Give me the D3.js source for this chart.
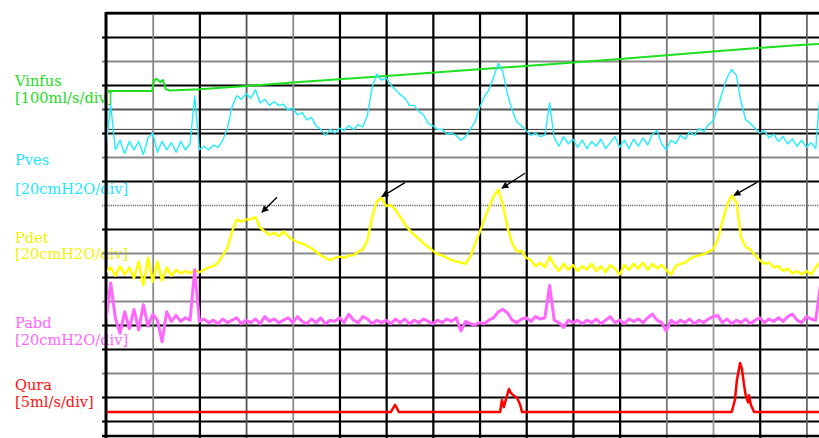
<!DOCTYPE html>
<html>
<head>
<meta charset="utf-8">
<script src="https://cdn.jsdelivr.net/npm/d3@7"></script>
<style>
  body { margin: 0; background: #fff; }
  svg { display: block; }
  text { font-family: "DejaVu Serif", serif; font-size: 14.6px; }
</style>
</head>
<body>
<div id="chart"></div>
<script>
// time in seconds, 10 s per division; noisy channels are sampled once per second
const gridTimes = [10, 20, 30, 40, 50, 60, 70, 80, 90, 100, 110, 120, 130, 140, 150];
const gridRows = [0, 1, 2, 3, 4, 5, 6, 7, 8, 9, 10, 11, 12, 13, 14, 15, 16, 17];

const channelNames = ["Vinfus", "Pves", "Pdet", "Pabd", "Qura"];
const channelUnits = ["[100ml/s/div]", "[20cmH2O/div]", "[20cmH2O/div]", "[20cmH2O/div]", "[5ml/s/div]"];

// infused volume (ml)
const vinfusT = [0, 9.9, 10.3, 10.9, 11.6, 12.2, 12.8, 13.7, 20.1, 30.8, 41.5, 63.0, 84.4, 95.1, 110.1, 130.0, 148.6, 152.7];
const vinfusV = [0, 0, 46, 50, 37, 46, 8, 2, 7, 22, 37, 67, 97, 111, 133, 165, 192, 196];

// pressures (cmH2O), one value per second
const pves = [8, 43, 6, 14, 3, 13, 6, 13, 2, 16, 20, 4, 13, 6, 12, 4, 13, 6, 11, 51,
  6, 9, 6, 10, 8, 14, 24, 42, 51, 48, 53, 49, 56, 45, 48, 43, 46, 43, 44, 39,
  41, 35, 37, 31, 33, 26, 23, 18, 23, 20, 24, 22, 26, 23, 27, 25, 35, 58, 69, 64,
  66, 60, 56, 52, 49, 43, 43, 38, 35, 28, 26, 23, 23, 19, 20, 18, 14, 17, 23, 29,
  41, 50, 56, 66, 78, 71, 52, 39, 29, 26, 22, 18, 20, 17, 18, 45, 16, 9, 17, 11,
  15, 8, 14, 7, 13, 9, 15, 7, 12, 17, 8, 14, 7, 15, 9, 16, 10, 19, 22, 11,
  6, 14, 11, 18, 15, 21, 18, 24, 21, 27, 30, 41, 54, 66, 73, 68, 46, 31, 28, 24,
  20, 22, 16, 19, 13, 17, 11, 15, 9, 14, 8, 12, 7, 56];

const pdet = [4, 8, 1, 9, 2, 8, -1, 13, -7, 16, -4, 13, -3, 8, 1, 6, 3, 5, 3, 6,
  4, 6, 8, 9, 12, 18, 24, 38, 48, 46, 48, 48, 50, 41, 38, 35, 37, 34, 38, 34,
  31, 29, 28, 26, 24, 21, 18, 16, 14, 16, 17, 16, 18, 18, 21, 23, 31, 50, 63, 66,
  59, 60, 56, 50, 44, 39, 35, 32, 28, 25, 22, 19, 18, 16, 14, 13, 12, 11, 17, 27,
  37, 48, 58, 67, 73, 60, 41, 28, 21, 22, 16, 14, 9, 12, 8, 17, 10, 5, 11, 6,
  10, 5, 9, 6, 11, 5, 9, 4, 10, 7, 2, 10, 6, 11, 7, 12, 6, 11, 7, 10,
  6, 2, 9, 11, 12, 15, 17, 18, 19, 21, 23, 31, 46, 60, 68, 62, 33, 25, 23, 18,
  14, 11, 12, 8, 9, 5, 7, 3, 5, 2, 5, 2, 8, 13];

const pabd = [4, 35, 6, -7, 11, -3, 13, -4, 17, -1, 9, 4, -14, 11, 3, 8, 3, 6, 4, 46,
  3, 5, 2, 4, 1, 5, 2, 4, 6, 1, 4, 2, 5, 1, 7, 3, 5, 2, 4, 6,
  2, 7, 3, 1, 5, 2, 6, 1, 4, 3, 6, 2, 9, 4, 2, 7, 5, 1, 4, 2,
  4, 1, 5, 2, 5, 1, 4, 2, 5, 3, 1, 4, 2, 5, 3, 6, -5, 3, 1, 0,
  2, 1, 4, 6, 11, 13, 10, 4, 2, 5, 6, 3, 7, 5, 6, 33,
  4, 2, -2, 4, 2, 4, 1, 4, 2, 5, 1, 4, 7, 2, 4, 1, 5, 3, 5, 2, 6, 9, 4, 2,
  -5, 4, 1, 4, 2, 5, 1, 4, 2, 5, 7, 8, 2, 5, 1, 4, 2, 5, 1, 4,
  6, 2, 5, 3, 6, 3, 7, 9, 4, 2, 7, 5, 4, 33];

// flow (ml/s)
const quraT = [0, 61.0, 61.5, 61.9, 62.3, 62.7, 84.4, 84.8, 85.2, 85.7, 86.3, 86.7, 87.2, 88.0, 88.7, 89.1,
  134.0, 134.7, 135.1, 135.8, 136.2, 136.6, 137.0, 137.5, 137.7, 138.1, 138.8, 152.7];
const quraV = [0, 0, 0.8, 1.5, 0.8, 0, 0, 2.5, 1.0, 2.8, 4.8, 4.0, 3.5, 3.0, 1.5, 0,
  0, 2.5, 6.5, 10.2, 9, 6, 3.5, 2, 3.5, 1.5, 0, 0];

// arrows marking detrusor contractions (time, Pdet)
const arrowT = [33.4, 59.1, 84.8, 134.5];
const arrowV = [54, 67, 74, 68];

// ---------------------------------------------------------------
const width = 819, height = 438;
const plotLeft = 106, plotTop = 13, plotBottom = 436;

const x = d3.scaleLinear().domain([0, 152.7]).range([plotLeft, width]);
const y = d3.scaleLinear().domain([0, 17.625]).range([plotTop, plotBottom]);

const channels = [
  { name: channelNames[0], unit: channelUnits[0], color: "#1ee01e", text: "#22dd22", zero: 3.25, perDiv: 100, w: 2, t: vinfusT, v: vinfusV, lab: [86, 103] },
  { name: channelNames[1], unit: channelUnits[1], color: "#22eeff", text: "#22e6ff", zero: 6, perDiv: 20, w: 1.4, t: pves.map((d, i) => i), v: pves, lab: [165, 194] },
  { name: channelNames[2], unit: channelUnits[2], color: "#ffff00", text: "#f2f200", zero: 11, perDiv: 20, w: 2.4, t: pdet.map((d, i) => i), v: pdet, lab: [243, 259] },
  { name: channelNames[3], unit: channelUnits[3], color: "#ff66ff", text: "#ff66ff", zero: 13, perDiv: 20, w: 3, t: pabd.map((d, i) => i), v: pabd, lab: [328, 345] },
  { name: channelNames[4], unit: channelUnits[4], color: "#ff0000", text: "#ff1010", zero: 16.625, perDiv: 5, w: 2.5, t: quraT, v: quraV, lab: [390, 407] }
];

const rowColor = ["#000", "#000", "#8a8a8a", "#000", "#555", "#000", "#8a8a8a", "#000", "dot", "#000",
  "#8a8a8a", "#000", "#8a8a8a", "#000", "#000", "#8a8a8a", "#000", "#000"];
const colColor = { 10: "#8a8a8a", 20: "#000", 30: "#555", 40: "#8a8a8a", 120: "#777", 130: "#9a9a9a", 140: "#000", 150: "#666" };

const svg = d3.select("#chart").append("svg")
  .attr("width", width).attr("height", height);

svg.append("rect").attr("width", width).attr("height", height).attr("fill", "#fff");

// channel labels (under the grid, like the original)
const labels = svg.append("g");
channels.forEach(ch => {
  labels.append("text").attr("x", 15).attr("y", ch.lab[0]).attr("fill", ch.text).text(ch.name);
  labels.append("text").attr("x", 15).attr("y", ch.lab[1]).attr("fill", ch.text).text(ch.unit);
});

// horizontal grid
const hAxis = svg.append("g")
  .attr("transform", `translate(${plotLeft},0)`)
  .call(d3.axisLeft(y).tickValues(gridRows).tickSize(-(width - plotLeft)).tickFormat(""));
hAxis.select(".domain").remove();
hAxis.selectAll(".tick line")
  .attr("x1", (d, i) => i === 0 ? 0 : -4)
  .attr("x2", width - plotLeft)
  .attr("stroke", d => rowColor[d] === "dot" ? "#666" : rowColor[d])
  .attr("stroke-width", d => rowColor[d] === "#000" ? 2.2 : (rowColor[d] === "dot" ? 1.3 : 1.8))
  .attr("stroke-dasharray", d => rowColor[d] === "dot" ? "1.2,1" : null);

// thin extra line just above row 5
svg.append("line")
  .attr("x1", plotLeft).attr("x2", width)
  .attr("y1", y(4.85)).attr("y2", y(4.85))
  .attr("stroke", "#333").attr("stroke-width", 1);

// vertical grid
const vAxis = svg.append("g")
  .attr("transform", `translate(0,${plotTop})`)
  .call(d3.axisBottom(x).tickValues(gridTimes).tickSize(height - plotTop).tickFormat(""));
vAxis.select(".domain").remove();
vAxis.selectAll(".tick line")
  .attr("stroke", d => colColor[d] || "#000")
  .attr("stroke-width", d => (colColor[d] && colColor[d] !== "#000") ? 1.8 : 2.2);

// frame: top and bottom edge, left axis
svg.append("line").attr("x1", plotLeft).attr("x2", width).attr("y1", plotTop).attr("y2", plotTop)
  .attr("stroke", "#000").attr("stroke-width", 2.6);
svg.append("line").attr("x1", plotLeft - 4).attr("x2", width).attr("y1", plotBottom).attr("y2", plotBottom)
  .attr("stroke", "#000").attr("stroke-width", 2.6);
svg.append("line").attr("x1", plotLeft).attr("x2", plotLeft).attr("y1", plotTop - 1).attr("y2", height)
  .attr("stroke", "#000").attr("stroke-width", 3);

// traces
svg.append("clipPath").attr("id", "plot")
  .append("rect").attr("x", plotLeft + 1).attr("y", plotTop).attr("width", width - plotLeft).attr("height", height - plotTop);

const traces = svg.append("g").attr("clip-path", "url(#plot)");
channels.forEach(ch => {
  const line = d3.line()
    .x(d => x(d[0]))
    .y(d => y(ch.zero - d[1] / ch.perDiv));
  traces.append("path")
    .datum(d3.zip(ch.t, ch.v))
    .attr("d", line)
    .attr("fill", "none")
    .attr("stroke", ch.color)
    .attr("stroke-width", ch.w)
    .attr("stroke-linejoin", "round");
});

// arrows
svg.append("defs").append("marker")
  .attr("id", "head").attr("viewBox", "0 0 10 10").attr("refX", 9).attr("refY", 5)
  .attr("markerWidth", 9).attr("markerHeight", 7).attr("markerUnits", "userSpaceOnUse").attr("orient", "auto")
  .append("path").attr("d", "M0,0L10,5L0,10z").attr("fill", "#000");

const arrowLen = [[15, -15], [23, -14], [23, -15], [23, -13]];
const pdetCh = channels[2];
svg.append("g").selectAll("line").data(d3.zip(arrowT, arrowV)).join("line")
  .attr("x1", (d, i) => x(d[0]) + arrowLen[i][0])
  .attr("y1", (d, i) => y(pdetCh.zero - d[1] / pdetCh.perDiv) + arrowLen[i][1])
  .attr("x2", d => x(d[0]))
  .attr("y2", d => y(pdetCh.zero - d[1] / pdetCh.perDiv))
  .attr("stroke", "#000").attr("stroke-width", 1.3)
  .attr("marker-end", "url(#head)");
</script>
</body>
</html>
